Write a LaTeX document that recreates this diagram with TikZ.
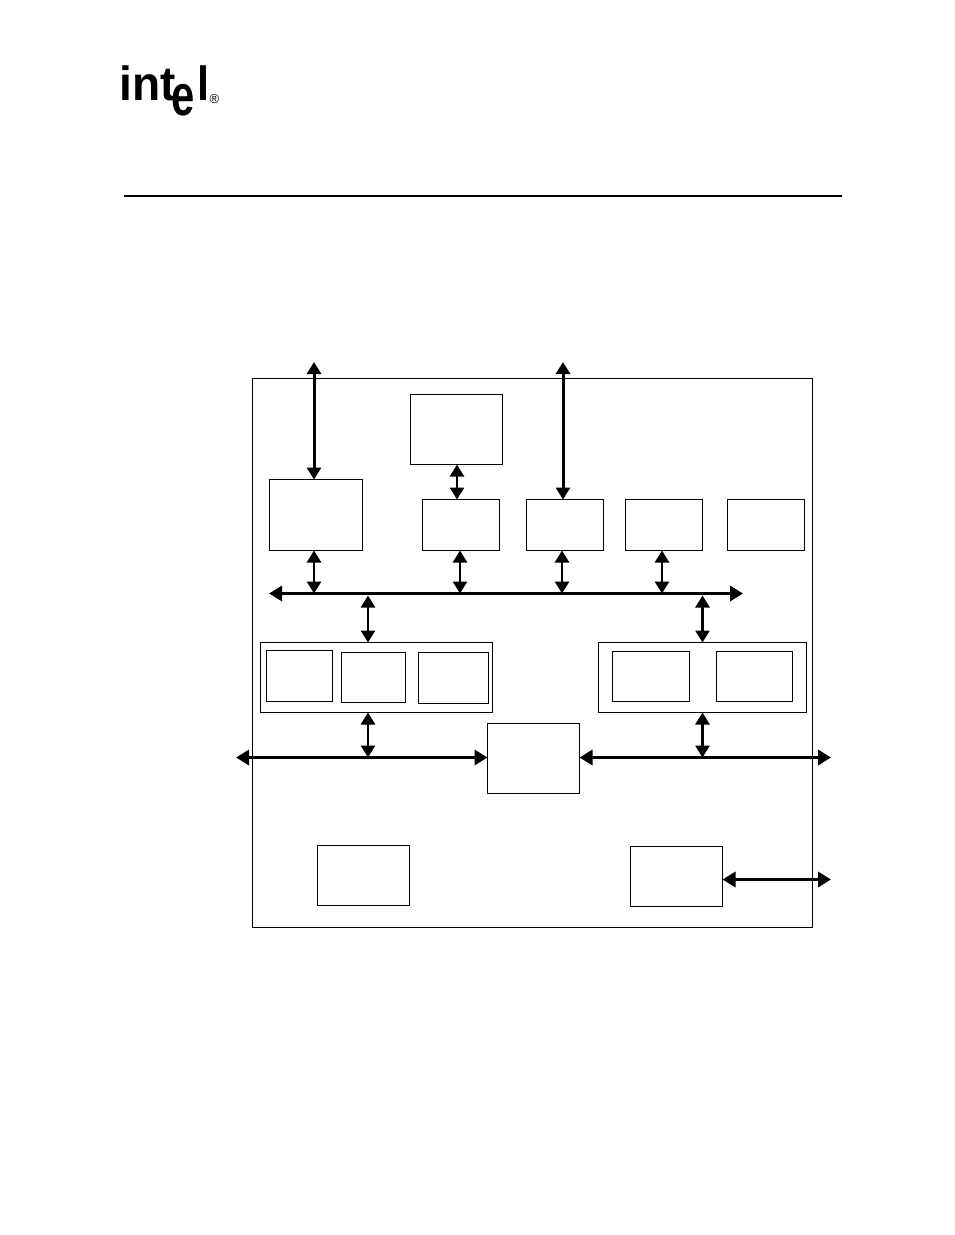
\documentclass[tikz,border=0pt]{standalone}
\usepackage{fontspec}
\setmainfont{Liberation Sans}
\usetikzlibrary{arrows.meta}
\tikzset{
  box/.style={draw=black,line width=1pt,inner sep=0pt,outer sep=0pt,rectangle,fill=white},
  thinlink/.style={line width=2.6pt,{Triangle[length=12pt,width=14pt]}-{Triangle[length=12pt,width=14pt]}},
  toplink/.style={line width=3pt,{Triangle[length=12pt,width=14pt]}-{Triangle[length=12pt,width=14pt]}},
  buslink/.style={line width=3.8pt,{Triangle[length=13pt,width=15pt]}-{Triangle[length=13pt,width=15pt]}},
  logo/.style={anchor=base west,inner sep=0pt,outer sep=0pt,transform shape}
}
\newcommand{\bx}[5]{%
  \pgfmathsetmacro{\bcx}{(#2+#4)/2}\pgfmathsetmacro{\bcy}{(#3+#5)/2}%
  \pgfmathsetmacro{\bw}{#4-#2}\pgfmathsetmacro{\bh}{#5-#3}%
  \node[box,minimum width=\bw pt,minimum height=\bh pt] (#1) at (\bcx,\bcy) {};}
\begin{document}
\begin{tikzpicture}[x=1pt,y=-1pt]
\useasboundingbox (0,0) rectangle (954,1235);
% logo
\begin{scope}[xscale=.96]
\node[logo,font=\fontsize{48}{48}\selectfont\bfseries] (logoa) at (120/.96,100.7) {int};
\end{scope}
\begin{scope}[xscale=.72]
\node[logo,font=\fontsize{58}{58}\selectfont\bfseries] (logob) at (171/.72,115) {e};
\end{scope}
\begin{scope}[xscale=.9]
\node[logo,font=\fontsize{48}{48}\selectfont\bfseries] (logoc) at (197/.9,100.7) {l};
\end{scope}
\node[font=\fontsize{13}{13}\selectfont,inner sep=0pt] (logor) at (214.5,99.5) {®};
% header rule
\coordinate (rulea) at (124,196); \coordinate (ruleb) at (842,196);
\draw[line width=2pt] (rulea) -- (ruleb);
% boxes
\bx{outer}{252}{378.5}{812.5}{927.5}
\bx{topbox}{410.5}{394.5}{502.5}{464.5}
\bx{leftbox}{269.5}{479.5}{362.5}{550.5}
\bx{ba}{422.5}{499.5}{499.5}{550.5}
\bx{bb}{526.5}{499.5}{603.5}{550.5}
\bx{bc}{625.5}{499.5}{702.5}{550.5}
\bx{bd}{727.5}{499.5}{804.5}{550.5}
\bx{gl}{260.5}{642.5}{492.5}{712.5}
\bx{gla}{266.5}{650.5}{332.5}{701.5}
\bx{glb}{341.5}{652.5}{405.5}{702.5}
\bx{glc}{418.5}{652.5}{488.5}{703.5}
\bx{gr}{598.5}{642.5}{806.5}{712.5}
\bx{gra}{612.5}{651.5}{689.5}{701.5}
\bx{grb}{716.5}{651.5}{792.5}{701.5}
\bx{center}{487.5}{723.5}{579.5}{793.5}
\bx{bl}{317.5}{845.5}{409.5}{905.5}
\bx{br}{630.5}{846.5}{722.5}{906.5}
% free ends
\coordinate (topa) at (314,362);
\coordinate (topb) at (563,362);
\coordinate (busal) at (269,593.5);
\coordinate (busar) at (743,593.5);
\coordinate (busbl) at (236,757.5);
\coordinate (busbr) at (831,757.5);
\coordinate (busc) at (831,879.5);
\coordinate (xa) at (314,0);
\coordinate (xb) at (460,0);
\coordinate (xc) at (562,0);
\coordinate (xd) at (662,0);
\coordinate (xe) at (368,0);
\coordinate (xf) at (702.5,0);
\coordinate (xg) at (457,0);
% connectors
\draw[toplink] (topa) -- (topa |- leftbox.north);
\draw[toplink] (topb) -- (topb |- bb.north);
\draw[thinlink] (xg |- topbox.south) -- (xg |- ba.north);
\draw[buslink] (busal) -- (busar);
\draw[buslink] (busbl) -- (busbl -| center.west);
\draw[buslink] (center.east |- busbr) -- (busbr);
\draw[buslink] (br.east |- busc) -- (busc);
\draw[thinlink] (xa |- leftbox.south) -- (xa |- busal);
\draw[thinlink] (xb |- ba.south) -- (xb |- busal);
\draw[thinlink] (xc |- bb.south) -- (xc |- busal);
\draw[thinlink] (xd |- bc.south) -- (xd |- busal);
\draw[thinlink] (xe |- busal) ++(0,2) -- (xe |- gl.north);
\draw[thinlink] (xf |- busar) ++(0,2) -- (xf |- gr.north);
\draw[thinlink] (xe |- gl.south) -- (xe |- busbl);
\draw[thinlink] (xf |- gr.south) -- (xf |- busbr);
\end{tikzpicture}
\end{document}
